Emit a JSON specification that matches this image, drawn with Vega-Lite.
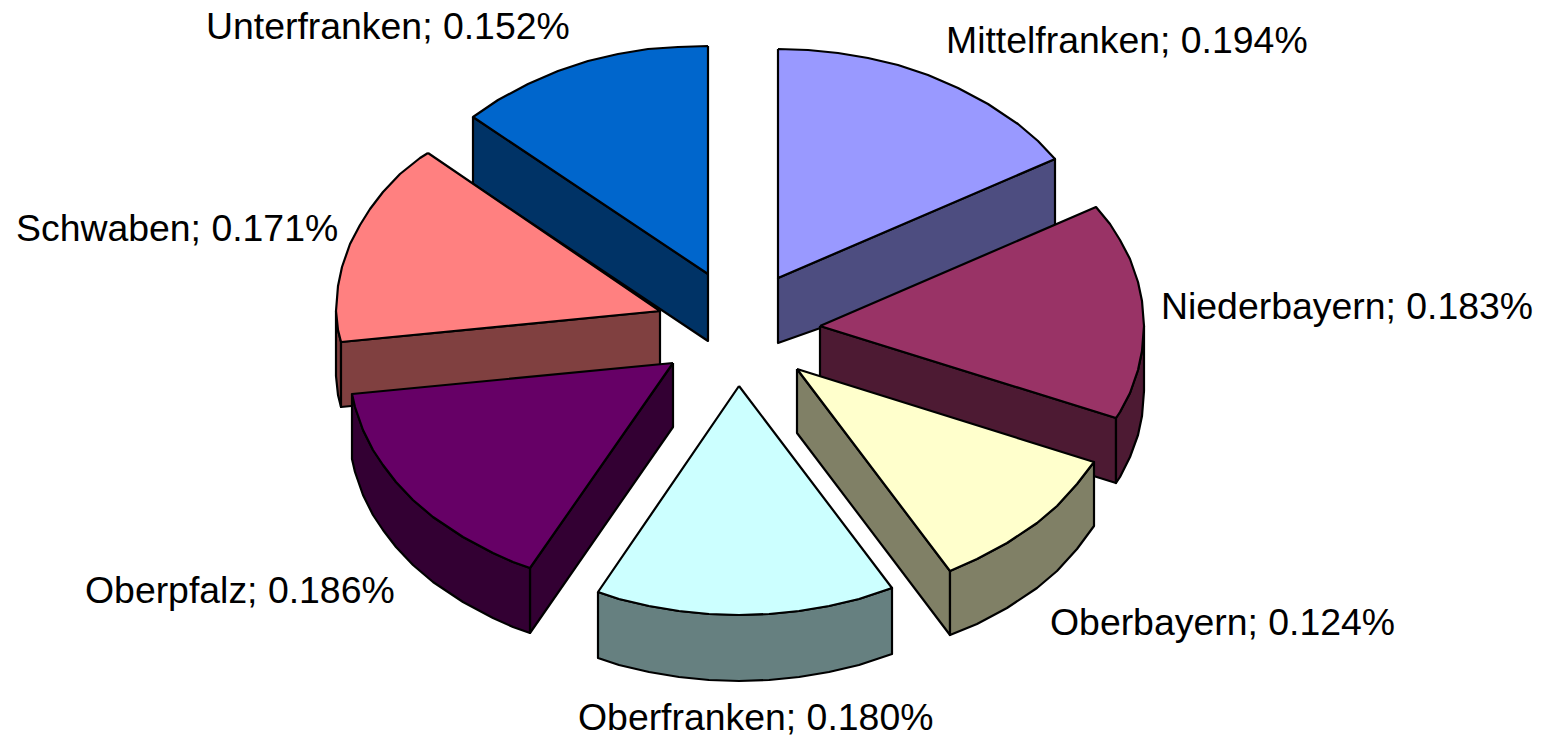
{"$schema":"https://vega.github.io/schema/vega-lite/v6.json","width":1547,"height":737,"autosize":{"type":"none"},"padding":0,"background":"white","view":{"stroke":null},
"datasets":{"outline":[
{"part":"Unterfranken side","face":"a1","seq":1,"x":473,"y":117},{"part":"Unterfranken side","face":"a1","seq":2,"x":708,"y":274},{"part":"Unterfranken side","face":"a1","seq":3,"x":708,"y":341},{"part":"Unterfranken side","face":"a1","seq":4,"x":473,"y":184},{"part":"Unterfranken side","face":"a1","seq":5,"x":473,"y":117},
{"part":"Unterfranken top","face":"a2","seq":1,"x":708,"y":46},{"part":"Unterfranken top","face":"a2","seq":2,"x":708,"y":274},{"part":"Unterfranken top","face":"a2","seq":3,"x":473,"y":117},{"part":"Unterfranken top","face":"a2","seq":4,"x":498,"y":100},{"part":"Unterfranken top","face":"a2","seq":5,"x":528,"y":84},{"part":"Unterfranken top","face":"a2","seq":6,"x":558,"y":71},{"part":"Unterfranken top","face":"a2","seq":7,"x":588,"y":61},{"part":"Unterfranken top","face":"a2","seq":8,"x":618,"y":54},{"part":"Unterfranken top","face":"a2","seq":9,"x":648,"y":49},{"part":"Unterfranken top","face":"a2","seq":10,"x":678,"y":47},{"part":"Unterfranken top","face":"a2","seq":11,"x":708,"y":46},
{"part":"Mittelfranken side","face":"b1","seq":1,"x":778,"y":278},{"part":"Mittelfranken side","face":"b1","seq":2,"x":1055,"y":159},{"part":"Mittelfranken side","face":"b1","seq":3,"x":1055,"y":245},{"part":"Mittelfranken side","face":"b1","seq":4,"x":778,"y":343},{"part":"Mittelfranken side","face":"b1","seq":5,"x":778,"y":278},
{"part":"Mittelfranken top","face":"b2","seq":1,"x":778,"y":49},{"part":"Mittelfranken top","face":"b2","seq":2,"x":808,"y":50},{"part":"Mittelfranken top","face":"b2","seq":3,"x":838,"y":53},{"part":"Mittelfranken top","face":"b2","seq":4,"x":868,"y":58},{"part":"Mittelfranken top","face":"b2","seq":5,"x":898,"y":65},{"part":"Mittelfranken top","face":"b2","seq":6,"x":928,"y":75},{"part":"Mittelfranken top","face":"b2","seq":7,"x":958,"y":88},{"part":"Mittelfranken top","face":"b2","seq":8,"x":988,"y":104},{"part":"Mittelfranken top","face":"b2","seq":9,"x":1018,"y":124},{"part":"Mittelfranken top","face":"b2","seq":10,"x":1038,"y":141},{"part":"Mittelfranken top","face":"b2","seq":11,"x":1055,"y":159},{"part":"Mittelfranken top","face":"b2","seq":12,"x":778,"y":278},{"part":"Mittelfranken top","face":"b2","seq":13,"x":778,"y":49},
{"part":"Schwaben side","face":"c1","seq":1,"x":341,"y":342},{"part":"Schwaben side","face":"c1","seq":2,"x":338,"y":330},{"part":"Schwaben side","face":"c1","seq":3,"x":336,"y":311},{"part":"Schwaben side","face":"c1","seq":4,"x":336,"y":376},{"part":"Schwaben side","face":"c1","seq":5,"x":338,"y":395},{"part":"Schwaben side","face":"c1","seq":6,"x":341,"y":407},{"part":"Schwaben side","face":"c1","seq":7,"x":341,"y":342},
{"part":"Schwaben side","face":"c2","seq":1,"x":341,"y":342},{"part":"Schwaben side","face":"c2","seq":2,"x":660,"y":311},{"part":"Schwaben side","face":"c2","seq":3,"x":660,"y":376},{"part":"Schwaben side","face":"c2","seq":4,"x":341,"y":407},{"part":"Schwaben side","face":"c2","seq":5,"x":341,"y":342},
{"part":"Schwaben top","face":"c3","seq":1,"x":428,"y":153},{"part":"Schwaben top","face":"c3","seq":2,"x":660,"y":311},{"part":"Schwaben top","face":"c3","seq":3,"x":341,"y":342},{"part":"Schwaben top","face":"c3","seq":4,"x":338,"y":330},{"part":"Schwaben top","face":"c3","seq":5,"x":336,"y":311},{"part":"Schwaben top","face":"c3","seq":6,"x":338,"y":286},{"part":"Schwaben top","face":"c3","seq":7,"x":342,"y":267},{"part":"Schwaben top","face":"c3","seq":8,"x":350,"y":244},{"part":"Schwaben top","face":"c3","seq":9,"x":360,"y":225},{"part":"Schwaben top","face":"c3","seq":10,"x":370,"y":209},{"part":"Schwaben top","face":"c3","seq":11,"x":383,"y":192},{"part":"Schwaben top","face":"c3","seq":12,"x":400,"y":174},{"part":"Schwaben top","face":"c3","seq":13,"x":420,"y":158},{"part":"Schwaben top","face":"c3","seq":14,"x":428,"y":153},
{"part":"Niederbayern side","face":"d1","seq":1,"x":820,"y":326},{"part":"Niederbayern side","face":"d1","seq":2,"x":1116,"y":418},{"part":"Niederbayern side","face":"d1","seq":3,"x":1116,"y":483},{"part":"Niederbayern side","face":"d1","seq":4,"x":820,"y":391},{"part":"Niederbayern side","face":"d1","seq":5,"x":820,"y":326},
{"part":"Niederbayern side","face":"d2","seq":1,"x":1116,"y":418},{"part":"Niederbayern side","face":"d2","seq":2,"x":1120,"y":412},{"part":"Niederbayern side","face":"d2","seq":3,"x":1130,"y":393},{"part":"Niederbayern side","face":"d2","seq":4,"x":1138,"y":370},{"part":"Niederbayern side","face":"d2","seq":5,"x":1142,"y":351},{"part":"Niederbayern side","face":"d2","seq":6,"x":1144,"y":326},{"part":"Niederbayern side","face":"d2","seq":7,"x":1144,"y":391},{"part":"Niederbayern side","face":"d2","seq":8,"x":1142,"y":416},{"part":"Niederbayern side","face":"d2","seq":9,"x":1138,"y":435},{"part":"Niederbayern side","face":"d2","seq":10,"x":1130,"y":457},{"part":"Niederbayern side","face":"d2","seq":11,"x":1120,"y":477},{"part":"Niederbayern side","face":"d2","seq":12,"x":1116,"y":483},{"part":"Niederbayern side","face":"d2","seq":13,"x":1116,"y":418},
{"part":"Niederbayern top","face":"d3","seq":1,"x":820,"y":326},{"part":"Niederbayern top","face":"d3","seq":2,"x":1096,"y":207},{"part":"Niederbayern top","face":"d3","seq":3,"x":1110,"y":224},{"part":"Niederbayern top","face":"d3","seq":4,"x":1120,"y":240},{"part":"Niederbayern top","face":"d3","seq":5,"x":1130,"y":259},{"part":"Niederbayern top","face":"d3","seq":6,"x":1138,"y":282},{"part":"Niederbayern top","face":"d3","seq":7,"x":1142,"y":301},{"part":"Niederbayern top","face":"d3","seq":8,"x":1144,"y":326},{"part":"Niederbayern top","face":"d3","seq":9,"x":1142,"y":351},{"part":"Niederbayern top","face":"d3","seq":10,"x":1138,"y":370},{"part":"Niederbayern top","face":"d3","seq":11,"x":1130,"y":393},{"part":"Niederbayern top","face":"d3","seq":12,"x":1120,"y":412},{"part":"Niederbayern top","face":"d3","seq":13,"x":1116,"y":418},{"part":"Niederbayern top","face":"d3","seq":14,"x":820,"y":326},
{"part":"Oberpfalz side","face":"e1","seq":1,"x":673,"y":363},{"part":"Oberpfalz side","face":"e1","seq":2,"x":530,"y":568},{"part":"Oberpfalz side","face":"e1","seq":3,"x":530,"y":633},{"part":"Oberpfalz side","face":"e1","seq":4,"x":673,"y":427},{"part":"Oberpfalz side","face":"e1","seq":5,"x":673,"y":363},
{"part":"Oberpfalz side","face":"e2","seq":1,"x":352,"y":394},{"part":"Oberpfalz side","face":"e2","seq":2,"x":355,"y":407},{"part":"Oberpfalz side","face":"e2","seq":3,"x":363,"y":430},{"part":"Oberpfalz side","face":"e2","seq":4,"x":373,"y":450},{"part":"Oberpfalz side","face":"e2","seq":5,"x":383,"y":465},{"part":"Oberpfalz side","face":"e2","seq":6,"x":396,"y":482},{"part":"Oberpfalz side","face":"e2","seq":7,"x":413,"y":500},{"part":"Oberpfalz side","face":"e2","seq":8,"x":433,"y":517},{"part":"Oberpfalz side","face":"e2","seq":9,"x":463,"y":537},{"part":"Oberpfalz side","face":"e2","seq":10,"x":493,"y":553},{"part":"Oberpfalz side","face":"e2","seq":11,"x":513,"y":562},{"part":"Oberpfalz side","face":"e2","seq":12,"x":530,"y":568},{"part":"Oberpfalz side","face":"e2","seq":13,"x":530,"y":633},{"part":"Oberpfalz side","face":"e2","seq":14,"x":513,"y":627},{"part":"Oberpfalz side","face":"e2","seq":15,"x":493,"y":618},{"part":"Oberpfalz side","face":"e2","seq":16,"x":463,"y":602},{"part":"Oberpfalz side","face":"e2","seq":17,"x":433,"y":582},{"part":"Oberpfalz side","face":"e2","seq":18,"x":413,"y":565},{"part":"Oberpfalz side","face":"e2","seq":19,"x":396,"y":547},{"part":"Oberpfalz side","face":"e2","seq":20,"x":383,"y":530},{"part":"Oberpfalz side","face":"e2","seq":21,"x":373,"y":515},{"part":"Oberpfalz side","face":"e2","seq":22,"x":363,"y":495},{"part":"Oberpfalz side","face":"e2","seq":23,"x":355,"y":472},{"part":"Oberpfalz side","face":"e2","seq":24,"x":352,"y":459},{"part":"Oberpfalz side","face":"e2","seq":25,"x":352,"y":394},
{"part":"Oberpfalz top","face":"e3","seq":1,"x":673,"y":363},{"part":"Oberpfalz top","face":"e3","seq":2,"x":530,"y":568},{"part":"Oberpfalz top","face":"e3","seq":3,"x":513,"y":562},{"part":"Oberpfalz top","face":"e3","seq":4,"x":493,"y":553},{"part":"Oberpfalz top","face":"e3","seq":5,"x":463,"y":537},{"part":"Oberpfalz top","face":"e3","seq":6,"x":433,"y":517},{"part":"Oberpfalz top","face":"e3","seq":7,"x":413,"y":500},{"part":"Oberpfalz top","face":"e3","seq":8,"x":396,"y":482},{"part":"Oberpfalz top","face":"e3","seq":9,"x":383,"y":465},{"part":"Oberpfalz top","face":"e3","seq":10,"x":373,"y":450},{"part":"Oberpfalz top","face":"e3","seq":11,"x":363,"y":430},{"part":"Oberpfalz top","face":"e3","seq":12,"x":355,"y":407},{"part":"Oberpfalz top","face":"e3","seq":13,"x":352,"y":394},{"part":"Oberpfalz top","face":"e3","seq":14,"x":673,"y":363},
{"part":"Oberbayern side","face":"f1","seq":1,"x":797,"y":369},{"part":"Oberbayern side","face":"f1","seq":2,"x":950,"y":571},{"part":"Oberbayern side","face":"f1","seq":3,"x":950,"y":635},{"part":"Oberbayern side","face":"f1","seq":4,"x":797,"y":433},{"part":"Oberbayern side","face":"f1","seq":5,"x":797,"y":369},
{"part":"Oberbayern side","face":"f2","seq":1,"x":950,"y":571},{"part":"Oberbayern side","face":"f2","seq":2,"x":977,"y":559},{"part":"Oberbayern side","face":"f2","seq":3,"x":1007,"y":543},{"part":"Oberbayern side","face":"f2","seq":4,"x":1037,"y":523},{"part":"Oberbayern side","face":"f2","seq":5,"x":1057,"y":506},{"part":"Oberbayern side","face":"f2","seq":6,"x":1077,"y":484},{"part":"Oberbayern side","face":"f2","seq":7,"x":1094,"y":462},{"part":"Oberbayern side","face":"f2","seq":8,"x":1094,"y":526},{"part":"Oberbayern side","face":"f2","seq":9,"x":1077,"y":549},{"part":"Oberbayern side","face":"f2","seq":10,"x":1057,"y":571},{"part":"Oberbayern side","face":"f2","seq":11,"x":1037,"y":588},{"part":"Oberbayern side","face":"f2","seq":12,"x":1007,"y":608},{"part":"Oberbayern side","face":"f2","seq":13,"x":977,"y":624},{"part":"Oberbayern side","face":"f2","seq":14,"x":950,"y":635},{"part":"Oberbayern side","face":"f2","seq":15,"x":950,"y":571},
{"part":"Oberbayern top","face":"f3","seq":1,"x":797,"y":369},{"part":"Oberbayern top","face":"f3","seq":2,"x":1094,"y":462},{"part":"Oberbayern top","face":"f3","seq":3,"x":1077,"y":484},{"part":"Oberbayern top","face":"f3","seq":4,"x":1057,"y":506},{"part":"Oberbayern top","face":"f3","seq":5,"x":1037,"y":523},{"part":"Oberbayern top","face":"f3","seq":6,"x":1007,"y":543},{"part":"Oberbayern top","face":"f3","seq":7,"x":977,"y":559},{"part":"Oberbayern top","face":"f3","seq":8,"x":950,"y":571},{"part":"Oberbayern top","face":"f3","seq":9,"x":797,"y":369},
{"part":"Oberfranken side","face":"g1","seq":1,"x":598,"y":592},{"part":"Oberfranken side","face":"g1","seq":2,"x":619,"y":599},{"part":"Oberfranken side","face":"g1","seq":3,"x":649,"y":606},{"part":"Oberfranken side","face":"g1","seq":4,"x":679,"y":611},{"part":"Oberfranken side","face":"g1","seq":5,"x":709,"y":614},{"part":"Oberfranken side","face":"g1","seq":6,"x":739,"y":615},{"part":"Oberfranken side","face":"g1","seq":7,"x":769,"y":614},{"part":"Oberfranken side","face":"g1","seq":8,"x":799,"y":611},{"part":"Oberfranken side","face":"g1","seq":9,"x":829,"y":606},{"part":"Oberfranken side","face":"g1","seq":10,"x":859,"y":599},{"part":"Oberfranken side","face":"g1","seq":11,"x":892,"y":588},{"part":"Oberfranken side","face":"g1","seq":12,"x":892,"y":654},{"part":"Oberfranken side","face":"g1","seq":13,"x":859,"y":665},{"part":"Oberfranken side","face":"g1","seq":14,"x":829,"y":672},{"part":"Oberfranken side","face":"g1","seq":15,"x":799,"y":677},{"part":"Oberfranken side","face":"g1","seq":16,"x":769,"y":680},{"part":"Oberfranken side","face":"g1","seq":17,"x":739,"y":681},{"part":"Oberfranken side","face":"g1","seq":18,"x":709,"y":680},{"part":"Oberfranken side","face":"g1","seq":19,"x":679,"y":677},{"part":"Oberfranken side","face":"g1","seq":20,"x":649,"y":672},{"part":"Oberfranken side","face":"g1","seq":21,"x":619,"y":665},{"part":"Oberfranken side","face":"g1","seq":22,"x":598,"y":658},{"part":"Oberfranken side","face":"g1","seq":23,"x":598,"y":592},
{"part":"Oberfranken top","face":"g2","seq":1,"x":739,"y":386},{"part":"Oberfranken top","face":"g2","seq":2,"x":892,"y":588},{"part":"Oberfranken top","face":"g2","seq":3,"x":859,"y":599},{"part":"Oberfranken top","face":"g2","seq":4,"x":829,"y":606},{"part":"Oberfranken top","face":"g2","seq":5,"x":799,"y":611},{"part":"Oberfranken top","face":"g2","seq":6,"x":769,"y":614},{"part":"Oberfranken top","face":"g2","seq":7,"x":739,"y":615},{"part":"Oberfranken top","face":"g2","seq":8,"x":709,"y":614},{"part":"Oberfranken top","face":"g2","seq":9,"x":679,"y":611},{"part":"Oberfranken top","face":"g2","seq":10,"x":649,"y":606},{"part":"Oberfranken top","face":"g2","seq":11,"x":619,"y":599},{"part":"Oberfranken top","face":"g2","seq":12,"x":598,"y":592},{"part":"Oberfranken top","face":"g2","seq":13,"x":739,"y":386}
],
"labels":[
{"label":"Mittelfranken; 0.194%","x":946,"y":53},
{"label":"Niederbayern; 0.183%","x":1161,"y":319},
{"label":"Oberbayern; 0.124%","x":1050,"y":635},
{"label":"Oberfranken; 0.180%","x":578,"y":730},
{"label":"Oberpfalz; 0.186%","x":85,"y":603},
{"label":"Schwaben; 0.171%","x":16,"y":241},
{"label":"Unterfranken; 0.152%","x":206,"y":39}
]},
"layer":[
{"data":{"name":"outline"},
"mark":{"type":"line","stroke":"#000000","strokeWidth":2.2,"strokeJoin":"round","clip":false},
"encoding":{
"x":{"field":"x","type":"quantitative","scale":{"domain":[0,1547],"nice":false,"zero":false},"axis":null},
"y":{"field":"y","type":"quantitative","scale":{"domain":[737,0],"nice":false,"zero":false},"axis":null},
"detail":{"field":"face"},
"order":{"field":"seq","type":"quantitative"},
"fill":{"field":"part","type":"nominal","legend":null,"scale":{"domain":["Mittelfranken top","Mittelfranken side","Niederbayern top","Niederbayern side","Oberbayern top","Oberbayern side","Oberfranken top","Oberfranken side","Oberpfalz top","Oberpfalz side","Schwaben top","Schwaben side","Unterfranken top","Unterfranken side"],"range":["#9999FF","#4D4D80","#993366","#4D1A33","#FFFFCC","#808066","#CCFFFF","#668080","#660066","#330033","#FF8080","#804040","#0066CC","#003366"]}}
}},
{"data":{"name":"labels"},
"mark":{"type":"text","align":"left","baseline":"alphabetic","font":"Liberation Sans","fontSize":37.4,"color":"#000000"},
"encoding":{
"x":{"field":"x","type":"quantitative","scale":{"domain":[0,1547],"nice":false,"zero":false},"axis":null},
"y":{"field":"y","type":"quantitative","scale":{"domain":[737,0],"nice":false,"zero":false},"axis":null},
"text":{"field":"label"}
}}
]}
